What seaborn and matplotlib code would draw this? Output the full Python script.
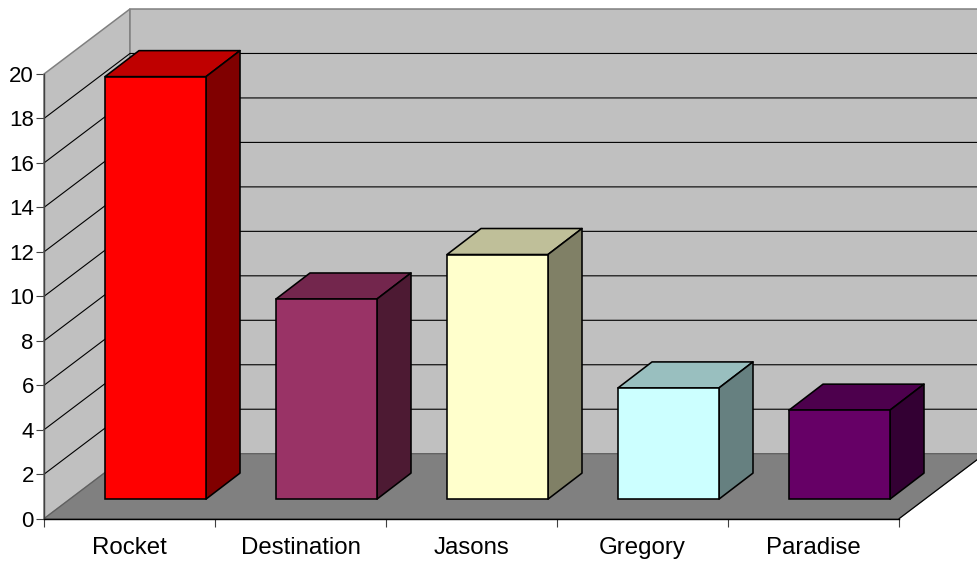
import matplotlib
matplotlib.use("Agg")
import matplotlib.pyplot as plt
from matplotlib.colors import to_rgb
from matplotlib.patches import Polygon
import pandas as pd
import seaborn as sns

# Chart data
teams = ["Rocket", "Destination", "Jasons", "Gregory", "Paradise"]
scores = [19, 9, 11, 5, 4]
bar_colors = ["#FF0000", "#993366", "#FFFFCC", "#CCFFFF", "#660066"]
y_ticks = list(range(0, 21, 2))

# Pixel scale of the front plane and the oblique projection of the box
FIG_W, FIG_H = 977, 563
CAT_PX = 171.0
UNIT_PX = 22.235
ZERO_PX = 518.7
FIRST_BAR_PX = 155.5

WALL_DX = 86 / CAT_PX
WALL_DY = 65 / UNIT_PX
BAR_DX = 34 / CAT_PX
BAR_DY = 26 / UNIT_PX
BAR_SHIFT = 26 / CAT_PX
BAR_LIFT = 19.6 / UNIT_PX

sns.set_theme(style="white")
plt.rcParams["font.family"] = ["Liberation Sans", "DejaVu Sans"]

df = pd.DataFrame({"team": teams, "score": scores})

fig = plt.figure(figsize=(FIG_W / 100, FIG_H / 100), dpi=100, facecolor="white")
ax = fig.add_axes([0, 0, 1, 1], facecolor="none")

sns.barplot(
    data=df, x="team", y="score", hue="team", palette=bar_colors, order=teams,
    hue_order=teams, dodge=False, legend=False, width=101 / CAT_PX, saturation=1,
    bottom=BAR_LIFT, edgecolor="black", linewidth=1.15, zorder=5, ax=ax,
)

ax.set_xlim(-FIRST_BAR_PX / CAT_PX, (FIG_W - FIRST_BAR_PX) / CAT_PX)
ax.set_ylim(-(FIG_H - ZERO_PX) / UNIT_PX, ZERO_PX / UNIT_PX)
ax.set_xlabel("")
ax.set_ylabel("")

x0 = -0.5 - BAR_SHIFT
x1 = x0 + len(teams)
top = y_ticks[-1]

# Walls and floor of the box
edge_gray = "#808080"
ax.add_patch(Polygon([(x0, 0), (x0, top), (x0 + WALL_DX, top + WALL_DY), (x0 + WALL_DX, WALL_DY)],
                     facecolor="#C0C0C0", edgecolor=edge_gray, lw=1.1, zorder=1))
ax.add_patch(Polygon([(x0 + WALL_DX, WALL_DY), (x0 + WALL_DX, top + WALL_DY),
                      (x1 + WALL_DX, top + WALL_DY), (x1 + WALL_DX, WALL_DY)],
                     facecolor="#C0C0C0", edgecolor=edge_gray, lw=1.1, zorder=1))
ax.add_patch(Polygon([(x0, 0), (x1, 0), (x1 + WALL_DX, WALL_DY), (x0 + WALL_DX, WALL_DY)],
                     facecolor="#808080", edgecolor="#606060", lw=0.9, zorder=2))
ax.plot([x1, x1 + WALL_DX], [0, WALL_DY], color="black", lw=0.8, zorder=3)

# Gridlines running along the side wall and the back wall
for t in y_ticks[1:-1]:
    ax.plot([x0, x0 + WALL_DX, x1 + WALL_DX], [t, t + WALL_DY, t + WALL_DY],
            color="black", lw=0.8, zorder=1.5, solid_joinstyle="miter")

# Top and side faces built from each bar's rectangle
for bar, color in zip(ax.patches, bar_colors):
    bx, by = bar.get_x(), bar.get_y()
    bw, bh = bar.get_width(), bar.get_height()
    rgb = to_rgb(color)
    ax.add_patch(Polygon(
        [(bx, by + bh), (bx + bw, by + bh), (bx + bw + BAR_DX, by + bh + BAR_DY), (bx + BAR_DX, by + bh + BAR_DY)],
        facecolor=[c * 0.75 for c in rgb], edgecolor="black", lw=1.15, zorder=4, joinstyle="round"))
    ax.add_patch(Polygon(
        [(bx + bw, by), (bx + bw, by + bh), (bx + bw + BAR_DX, by + bh + BAR_DY), (bx + bw + BAR_DX, by + BAR_DY)],
        facecolor=[c * 0.5 for c in rgb], edgecolor="black", lw=1.15, zorder=4, joinstyle="round"))

# Axis lines sit on the front plane of the box
for side in ("top", "right"):
    ax.spines[side].set_visible(False)
ax.spines["left"].set_position(("data", x0))
ax.spines["left"].set_bounds(0, top)
ax.spines["left"].set_color("#404040")
ax.spines["left"].set_linewidth(1.0)
ax.spines["left"].set_zorder(6)
ax.spines["bottom"].set_position(("data", 0))
ax.spines["bottom"].set_bounds(x0, x1)
ax.spines["bottom"].set_color("black")
ax.spines["bottom"].set_linewidth(1.0)
ax.spines["bottom"].set_zorder(6)

ax.set_yticks(y_ticks)
ax.tick_params(axis="y", direction="out", length=5.8, width=0.8, color="#404040",
               labelsize=16, labelcolor="black", pad=1.5, left=True)

centers = [x0 + 0.5 + i for i in range(len(teams))]
ax.set_xticks(centers, teams)
ax.set_xticks([x0 + i for i in range(len(teams) + 1)], minor=True)
ax.tick_params(axis="x", which="major", length=0, labelsize=17.3, labelcolor="black", pad=13.5)
ax.tick_params(axis="x", which="minor", direction="out", length=5.8, width=0.8,
               color="#404040", bottom=True)

fig.savefig("out.png", dpi=100)
